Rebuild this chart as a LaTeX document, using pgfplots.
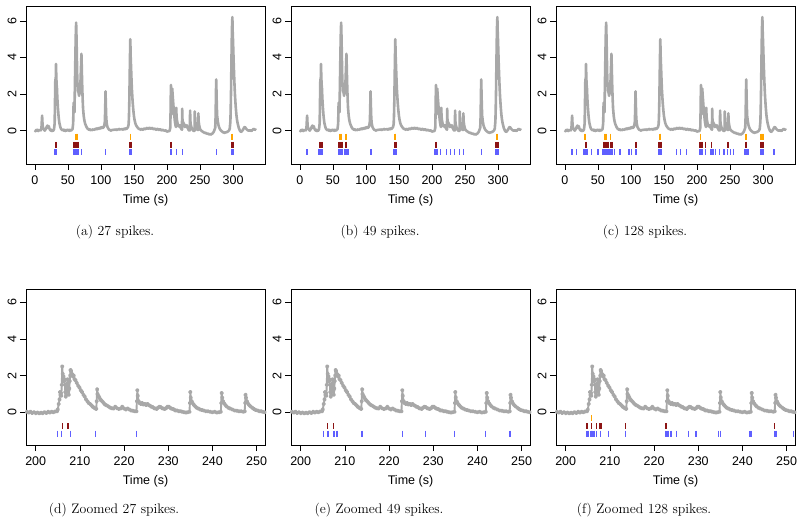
\documentclass[border=0pt]{standalone}
\usepackage{fontspec}
\usepackage{pgfplots}
\usepackage{pgfplotstable}
\pgfplotsset{compat=1.18}
\newfontfamily\helv{Liberation Sans}
\newcommand{\tickfont}{\helv\fontsize{12.5}{14}\selectfont}
\newcommand{\capfont}{\fontsize{13.8}{16}\selectfont}
\definecolor{tracegray}{RGB}{168,168,168}
\definecolor{spblue}{RGB}{95,95,255}
\definecolor{spred}{RGB}{140,20,20}
\definecolor{sporange}{RGB}{255,165,0}

\pgfplotstableread[row sep=\\]{
t y\\
0 0.02\\ 1 -0.03\\ 2 0.04\\ 3 0.0\\ 4 0.05\\ 5 -0.02\\ 6 0.03\\ 7 0.0\\ 8 0.04\\ 9 0.02\\
10 0.15\\ 10.5 0.5\\ 11 0.82\\ 11.5 0.45\\ 12 0.22\\ 13 0.1\\ 14 0.05\\ 15 0.0\\ 16 0.06\\ 17 0.12\\
18 0.22\\ 19 0.28\\ 20 0.15\\ 21 0.25\\ 22 0.12\\ 23 0.05\\ 24 0.0\\ 25 0.05\\ 26 -0.02\\ 27 0.02\\
28 0.0\\ 29 0.08\\ 30 0.4\\ 30.5 1.6\\ 31 2.8\\ 31.5 2.4\\ 32 3.65\\ 32.5 2.9\\ 33 2.5\\ 33.5 2.3\\
34 1.8\\ 35 1.2\\ 36 0.75\\ 37 0.45\\ 38 0.28\\ 39 0.15\\ 40 0.08\\ 41 0.05\\ 42 0.02\\ 43 0.06\\
44 0.0\\ 45 0.04\\ 46 -0.02\\ 47 0.03\\ 48 0.0\\ 49 0.05\\ 50 0.01\\ 51 0.04\\ 52 -0.01\\ 53 0.05\\
54 0.02\\ 55 0.0\\ 56 0.05\\ 57 0.08\\ 58 0.4\\ 58.5 1.3\\ 59 1.55\\ 59.5 1.3\\ 60 1.0\\ 60.5 2.2\\
61 3.3\\ 61.5 4.4\\ 62 5.3\\ 62.5 5.9\\ 63 5.2\\ 63.5 4.3\\ 64 3.2\\ 64.5 2.6\\ 65 2.4\\ 65.5 2.1\\
66 2.3\\ 66.5 2.0\\ 67 1.9\\ 67.5 2.2\\ 68 2.0\\ 68.5 2.4\\ 69 2.6\\ 69.5 3.1\\ 70 3.6\\ 70.5 4.2\\
71 3.5\\ 71.5 2.7\\ 72 2.1\\ 72.5 1.6\\ 73 1.2\\ 74 0.8\\ 75 0.55\\ 76 0.4\\ 77 0.3\\ 78 0.22\\
79 0.15\\ 80 0.1\\ 81 0.08\\ 82 0.05\\ 83 0.08\\ 84 0.03\\ 85 0.06\\ 86 0.02\\ 87 0.05\\ 88 0.08\\
89 0.04\\ 90 0.06\\ 91 0.1\\ 92 0.07\\ 93 0.12\\ 94 0.08\\ 95 0.1\\ 96 0.14\\ 97 0.1\\ 98 0.15\\
99 0.12\\ 100 0.18\\ 101 0.14\\ 102 0.2\\ 103 0.15\\ 104 0.18\\ 105 0.25\\ 106 0.5\\ 106.5 1.2\\ 107 2.15\\
107.5 1.4\\ 108 0.8\\ 108.5 0.5\\ 109 0.35\\ 110 0.2\\ 111 0.12\\ 112 0.08\\ 113 0.03\\ 114 0.05\\ 115 0.0\\
116 0.04\\ 117 0.02\\ 118 0.06\\ 119 0.03\\ 120 0.07\\ 121 0.04\\ 122 0.08\\ 123 0.05\\ 124 0.03\\ 125 0.07\\
126 0.05\\ 127 0.1\\ 128 0.08\\ 129 0.05\\ 130 0.09\\ 131 0.06\\ 132 0.1\\ 133 0.07\\ 134 0.05\\ 135 0.1\\
136 0.12\\ 137 0.08\\ 138 0.13\\ 139 0.1\\ 140 0.15\\ 141 0.2\\ 142 0.35\\ 142.5 0.8\\ 143 1.6\\ 143.5 2.8\\
144 4.0\\ 144.5 5.0\\ 145 4.1\\ 145.5 3.6\\ 146 3.1\\ 146.5 2.6\\ 147 2.2\\ 148 1.6\\ 149 1.15\\ 150 0.8\\
151 0.58\\ 152 0.42\\ 153 0.32\\ 154 0.25\\ 155 0.2\\ 156 0.15\\ 157 0.12\\ 158 0.08\\ 159 0.1\\ 160 0.05\\
161 0.08\\ 162 0.1\\ 163 0.06\\ 164 0.05\\ 165 0.1\\ 166 0.12\\ 167 0.08\\ 168 0.1\\ 169 0.14\\ 170 0.15\\
171 0.1\\ 172 0.12\\ 173 0.16\\ 174 0.14\\ 175 0.1\\ 176 0.12\\ 177 0.16\\ 178 0.13\\ 179 0.1\\ 180 0.08\\
181 0.11\\ 182 0.1\\ 183 0.06\\ 184 0.05\\ 185 0.09\\ 186 0.1\\ 187 0.05\\ 188 0.04\\ 189 0.07\\ 190 0.08\\
191 0.03\\ 192 0.02\\ 193 0.05\\ 194 0.04\\ 195 0.0\\ 196 0.02\\ 197 -0.01\\ 198 0.02\\ 199 -0.03\\ 200 -0.04\\
201 -0.05\\ 202 -0.02\\ 203 -0.03\\ 204 0.0\\ 205 0.15\\ 205.5 1.1\\ 206 2.5\\ 206.5 1.75\\ 207 0.9\\ 207.3 1.8\\
207.6 1.0\\ 208 2.3\\ 208.5 2.0\\ 209 1.75\\ 209.5 1.5\\ 210 1.25\\ 211 0.85\\ 212 0.5\\ 213 0.28\\ 213.6 0.2\\
214 1.25\\ 214.5 0.8\\ 215 0.6\\ 216 0.4\\ 217 0.25\\ 218 0.3\\ 219 0.2\\ 219.5 0.3\\ 220 0.2\\ 221 0.15\\
222 0.08\\ 222.7 0.05\\ 223 1.2\\ 223.5 0.55\\ 224 0.5\\ 225 0.42\\ 226 0.35\\ 227 0.2\\ 228 0.3\\ 229 0.2\\
230 0.3\\ 231 0.18\\ 232 0.1\\ 233 0.03\\ 234 0.0\\ 234.7 0.02\\ 235 1.1\\ 235.5 0.5\\ 236 0.35\\ 237 0.18\\
238 0.1\\ 239 0.05\\ 240 0.0\\ 241 -0.02\\ 241.8 0.0\\ 242.1 1.05\\ 242.6 0.5\\ 243 0.38\\ 244 0.2\\ 245 0.1\\
246 0.05\\ 247.2 0.04\\ 247.5 0.95\\ 248 0.5\\ 249 0.25\\ 250 0.1\\ 251 0.04\\ 252 0.0\\ 253 -0.03\\ 254 -0.05\\
255 -0.08\\ 256 -0.1\\ 257 -0.12\\ 258 -0.1\\ 259 -0.14\\ 260 -0.15\\ 261 -0.17\\ 262 -0.15\\ 263 -0.19\\ 264 -0.2\\
265 -0.18\\ 266 -0.21\\ 267 -0.2\\ 268 -0.17\\ 269 -0.15\\ 270 -0.1\\ 271 -0.05\\ 272 0.05\\ 273 0.15\\ 273.5 0.6\\
274 1.6\\ 274.5 2.8\\ 275 2.1\\ 275.5 1.3\\ 276 0.8\\ 277 0.5\\ 278 0.3\\ 279 0.18\\ 280 0.1\\ 281 0.04\\
282 0.0\\ 283 -0.04\\ 284 -0.06\\ 285 -0.09\\ 286 -0.1\\ 287 -0.12\\ 288 -0.1\\ 289 -0.08\\ 290 -0.1\\ 291 -0.06\\
292 -0.05\\ 293 -0.02\\ 294 0.02\\ 295 0.1\\ 296 0.5\\ 296.5 1.2\\ 297 2.2\\ 297.5 3.5\\ 298 4.8\\ 298.5 5.7\\
299 6.2\\ 299.5 5.4\\ 300 4.9\\ 300.5 4.3\\ 301 3.7\\ 301.5 3.2\\ 302 2.7\\ 303 1.9\\ 304 1.35\\ 305 0.9\\
306 0.6\\ 307 0.4\\ 308 0.25\\ 309 0.12\\ 310 0.04\\ 311 -0.03\\ 312 -0.06\\ 313 -0.05\\ 314 0.0\\ 315 0.05\\
316 0.12\\ 317 0.18\\ 318 0.2\\ 319 0.15\\ 320 0.1\\ 321 0.06\\ 322 0.03\\ 323 0.0\\ 324 0.02\\ 325 -0.01\\
326 0.03\\ 327 0.0\\ 328 -0.02\\ 329 0.03\\ 330 0.06\\ 331 0.1\\ 332 0.08\\ 333 0.05\\ 334 0.06\\ 335 0.03\\
}\fulltrace

\pgfplotstableread[row sep=\\]{
t y\\
198.0 0.02\\ 198.4 -0.02\\ 198.8 0.03\\ 199.2 -0.04\\ 199.6 0.0\\ 200.0 -0.05\\ 200.4 -0.02\\ 200.8 -0.06\\
201.2 -0.03\\ 201.6 -0.05\\ 202.0 0.0\\ 202.4 -0.04\\ 202.8 0.02\\ 203.2 -0.02\\ 203.6 0.03\\ 204.0 0.0\\
204.4 0.04\\ 204.8 0.05\\ 205.0 0.15\\ 205.2 0.45\\ 205.4 0.7\\ 205.5 1.1\\ 205.6 0.95\\ 205.7 1.05\\
205.8 0.9\\ 205.9 1.5\\ 206.0 2.5\\ 206.1 2.1\\ 206.2 1.85\\ 206.3 1.95\\ 206.4 1.7\\ 206.5 1.8\\
206.6 1.5\\ 206.7 1.1\\ 206.8 0.85\\ 206.9 0.95\\ 207.0 1.2\\ 207.1 1.5\\ 207.2 1.8\\ 207.3 1.6\\
207.4 1.2\\ 207.5 0.95\\ 207.6 1.3\\ 207.7 1.7\\ 207.8 2.0\\ 207.9 2.3\\ 208.0 2.25\\ 208.2 2.1\\
208.4 1.95\\ 208.6 2.0\\ 208.8 1.8\\ 209.0 1.75\\ 209.3 1.6\\ 209.6 1.45\\ 209.9 1.35\\ 210.2 1.2\\
210.5 1.1\\ 210.8 0.95\\ 211.1 0.85\\ 211.4 0.7\\ 211.7 0.6\\ 212.0 0.5\\ 212.3 0.45\\ 212.6 0.38\\
212.9 0.3\\ 213.2 0.25\\ 213.5 0.2\\ 213.7 0.18\\ 213.8 0.6\\ 213.9 1.25\\ 214.0 1.0\\ 214.2 0.9\\
214.4 0.8\\ 214.6 0.72\\ 214.8 0.65\\ 215.1 0.58\\ 215.4 0.5\\ 215.7 0.42\\ 216.0 0.38\\ 216.4 0.32\\
216.8 0.26\\ 217.2 0.22\\ 217.6 0.2\\ 218.0 0.3\\ 218.4 0.22\\ 218.8 0.18\\ 219.2 0.2\\ 219.6 0.3\\
220.0 0.2\\ 220.4 0.15\\ 220.8 0.2\\ 221.2 0.15\\ 221.6 0.1\\ 222.0 0.08\\ 222.4 0.05\\ 222.8 0.05\\
222.9 0.6\\ 223.0 1.2\\ 223.1 0.9\\ 223.3 0.6\\ 223.5 0.5\\ 223.8 0.45\\ 224.1 0.5\\ 224.4 0.42\\
224.7 0.45\\ 225.0 0.4\\ 225.3 0.45\\ 225.6 0.38\\ 225.9 0.35\\ 226.2 0.3\\ 226.5 0.28\\ 226.8 0.22\\
227.1 0.2\\ 227.4 0.18\\ 227.7 0.25\\ 228.0 0.3\\ 228.3 0.28\\ 228.6 0.22\\ 228.9 0.2\\ 229.2 0.18\\
229.5 0.22\\ 229.8 0.3\\ 230.1 0.3\\ 230.4 0.25\\ 230.7 0.2\\ 231.0 0.18\\ 231.3 0.15\\ 231.6 0.1\\
232.0 0.1\\ 232.4 0.06\\ 232.8 0.05\\ 233.2 0.02\\ 233.6 0.0\\ 234.0 -0.02\\ 234.4 0.0\\ 234.8 0.02\\
234.9 0.5\\ 235.0 1.1\\ 235.1 0.8\\ 235.3 0.6\\ 235.5 0.5\\ 235.8 0.4\\ 236.1 0.32\\ 236.4 0.25\\
236.8 0.2\\ 237.2 0.15\\ 237.6 0.12\\ 238.0 0.1\\ 238.5 0.06\\ 239.0 0.05\\ 239.5 0.02\\ 240.0 0.0\\
240.5 0.02\\ 241.0 -0.02\\ 241.5 0.0\\ 241.9 0.02\\ 242.0 0.5\\ 242.1 1.05\\ 242.2 0.8\\ 242.4 0.6\\
242.6 0.5\\ 242.9 0.4\\ 243.2 0.32\\ 243.6 0.25\\ 244.0 0.2\\ 244.5 0.15\\ 245.0 0.1\\ 245.5 0.08\\
246.0 0.05\\ 246.5 0.05\\ 247.0 0.03\\ 247.3 0.05\\ 247.4 0.5\\ 247.5 0.95\\ 247.6 0.8\\ 247.8 0.6\\
248.0 0.5\\ 248.3 0.4\\ 248.6 0.32\\ 249.0 0.25\\ 249.4 0.18\\ 249.8 0.12\\ 250.2 0.1\\ 250.6 0.06\\
251.0 0.05\\ 251.4 0.02\\ 251.8 0.0\\ 252.2 0.0\\
}\zoomtrace

\pgfplotsset{
  panel/.style={
    scale only axis, width=239pt,
    axis line style={line width=0.8pt},
    every tick/.style={black, line width=0.6pt},
    tick align=outside, tickpos=left,
    major tick length=6pt,
    ytick={0,2,4,6},
    yticklabel style={rotate=90, anchor=south, font=\tickfont},
    xticklabel style={font=\tickfont, yshift=-2pt},
    xlabel={Time (s)}, xlabel style={font=\tickfont, yshift=-3pt},
    /pgf/number format/assume math mode=true,
  },
  toprow/.style={panel, height=158pt, xmin=-13.4, xmax=348.4, ymin=-1.82, ymax=6.81,
    xtick={0,50,100,150,200,250,300}},
  botrow/.style={panel, height=156pt, xmin=197.8, xmax=251.9, ymin=-1.79, ymax=6.73,
    xtick={200,210,220,230,240,250}},
  trace/.style={color=tracegray, line width=2.6pt, line join=round, no marks},
  ztrace/.style={color=tracegray, line width=1.9pt, line join=round, mark=*, mark size=1.2pt},
  spk/.style={only marks, mark=|, mark size=3pt, mark options={line width=1.4pt}},
  zspk/.style={only marks, mark=|, mark size=3pt, mark options={line width=1.3pt}},
  spB/.style={spk, color=spblue},
  spR/.style={spk, color=spred},
  spO/.style={spk, color=sporange},
  zB/.style={zspk, color=spblue},
  zR/.style={zspk, color=spred},
  zO/.style={zspk, color=sporange},
}

\begin{document}
\begin{tikzpicture}
\path[use as bounding box] (0pt,0pt) rectangle (800pt,-525pt);

% (a)
\begin{axis}[toprow, at={(26pt,-6pt)}, anchor=north west]
\addplot[trace] table[x=t,y=y] {\fulltrace};
\addplot[spB] coordinates {(29.5,-1.17) (31,-1.17) (32.5,-1.17) (58.5,-1.17) (60,-1.17) (61.5,-1.17) (63,-1.17) (64.5,-1.17) (65.5,-1.17) (70.6,-1.17) (107.4,-1.17) (143,-1.17) (144.5,-1.17) (146,-1.17) (205.5,-1.17) (207,-1.17) (214.3,-1.17) (223.4,-1.17) (274.8,-1.17) (297.5,-1.17) (299,-1.17) (300.5,-1.17)};
\addplot[spR] coordinates {(31,-0.77) (32.5,-0.77) (59.5,-0.77) (61,-0.77) (62.5,-0.77) (64,-0.77) (65.5,-0.77) (144,-0.77) (145.5,-0.77) (206,-0.77) (298,-0.77) (299.5,-0.77) (301,-0.77)};
\addplot[spO] coordinates {(62.5,-0.33) (64,-0.33) (144.7,-0.33) (298.5,-0.33)};
\end{axis}

% (b)
\begin{axis}[toprow, at={(291pt,-6pt)}, anchor=north west]
\addplot[trace] table[x=t,y=y] {\fulltrace};
\addplot[spB] coordinates {(11,-1.17) (29,-1.17) (30.5,-1.17) (32,-1.17) (33.5,-1.17) (58.5,-1.17) (60,-1.17) (61.5,-1.17) (63,-1.17) (64.5,-1.17) (68.5,-1.17) (70,-1.17) (71.5,-1.17) (73,-1.17) (107.4,-1.17) (142,-1.17) (143.5,-1.17) (145,-1.17) (146.5,-1.17) (204.5,-1.17) (206,-1.17) (207.5,-1.17) (213.3,-1.17) (222,-1.17) (228.4,-1.17) (234.5,-1.17) (241.5,-1.17) (247.6,-1.17) (274.8,-1.17) (297,-1.17) (298.5,-1.17) (300,-1.17) (301,-1.17)};
\addplot[spR] coordinates {(29.5,-0.77) (31,-0.77) (32.5,-0.77) (34,-0.77) (59.5,-0.77) (61,-0.77) (62.5,-0.77) (64,-0.77) (65,-0.77) (70,-0.77) (71,-0.77) (144,-0.77) (145.5,-0.77) (206,-0.77) (296.5,-0.77) (298,-0.77) (299.5,-0.77) (301,-0.77)};
\addplot[spO] coordinates {(60,-0.33) (61.5,-0.33) (63,-0.33) (70,-0.33) (144,-0.33) (145,-0.33) (298,-0.33) (299.5,-0.33)};
\end{axis}

% (c)
\begin{axis}[toprow, at={(556pt,-6pt)}, anchor=north west]
\addplot[trace] table[x=t,y=y] {\fulltrace};
\addplot[spB] coordinates {(11,-1.17) (17.6,-1.17) (29,-1.17) (30.5,-1.17) (32,-1.17) (33.5,-1.17) (40.3,-1.17) (50.4,-1.17) (57,-1.17) (58.5,-1.17) (60,-1.17) (61.5,-1.17) (63,-1.17) (64.5,-1.17) (66,-1.17) (68.5,-1.17) (70,-1.17) (71.5,-1.17) (75.6,-1.17) (83.2,-1.17) (97.3,-1.17) (100.9,-1.17) (106.5,-1.17) (108,-1.17) (141.5,-1.17) (143,-1.17) (144.5,-1.17) (146,-1.17) (169,-1.17) (175,-1.17) (184,-1.17) (203.5,-1.17) (205,-1.17) (206.5,-1.17) (208,-1.17) (213.3,-1.17) (221,-1.17) (222.5,-1.17) (224,-1.17) (225,-1.17) (228,-1.17) (234.5,-1.17) (241,-1.17) (246,-1.17) (251,-1.17) (255.7,-1.17) (271.5,-1.17) (273,-1.17) (274.5,-1.17) (276,-1.17) (277.5,-1.17) (297,-1.17) (298.5,-1.17) (300,-1.17) (301,-1.17) (316.7,-1.17)};
\addplot[spR] coordinates {(31,-0.77) (32.5,-0.77) (58.5,-0.77) (60,-0.77) (61.5,-0.77) (63,-0.77) (64.5,-0.77) (65.5,-0.77) (69,-0.77) (70.5,-0.77) (71.5,-0.77) (107.4,-0.77) (142.5,-0.77) (144,-0.77) (145.5,-0.77) (204.5,-0.77) (206,-0.77) (207.5,-0.77) (213.3,-0.77) (222,-0.77) (247,-0.77) (274,-0.77) (275,-0.77) (296.5,-0.77) (298,-0.77) (299.5,-0.77) (301,-0.77)};
\addplot[spO] coordinates {(30,-0.33) (31.5,-0.33) (60,-0.33) (61.5,-0.33) (63,-0.33) (69,-0.33) (144,-0.33) (145,-0.33) (205.5,-0.33) (274,-0.33) (297,-0.33) (298.5,-0.33) (300,-0.33)};
\end{axis}

% (d)
\begin{axis}[botrow, at={(26pt,-289pt)}, anchor=north west]
\addplot[ztrace] table[x=t,y=y] {\zoomtrace};
\addplot[zB] coordinates {(205.0,-1.17) (205.9,-1.17) (207.9,-1.17) (213.6,-1.17) (222.8,-1.17)};
\addplot[zR] coordinates {(206.0,-0.77) (207.3,-0.77)};
\end{axis}

% (e)
\begin{axis}[botrow, at={(291pt,-289pt)}, anchor=north west]
\addplot[ztrace] table[x=t,y=y] {\zoomtrace};
\addplot[zB] coordinates {(205.2,-1.17) (206.2,-1.17) (207.5,-1.17) (208.2,-1.17) (213.9,-1.17) (223.0,-1.17) (228.2,-1.17) (234.8,-1.17) (241.9,-1.17) (247.4,-1.17)};
\addplot[zR] coordinates {(206.1,-0.77) (207.4,-0.77)};
\end{axis}

% (f)
\begin{axis}[botrow, at={(556pt,-289pt)}, anchor=north west]
\addplot[ztrace] table[x=t,y=y] {\zoomtrace};
\addplot[zB] coordinates {(204.8,-1.17) (205.1,-1.17) (205.7,-1.17) (205.9,-1.17) (206.1,-1.17) (206.4,-1.17) (207.0,-1.17) (207.8,-1.17) (209.7,-1.17) (213.6,-1.17) (222.6,-1.17) (222.9,-1.17) (223.2,-1.17) (223.8,-1.17) (225.1,-1.17) (227.8,-1.17) (229.5,-1.17) (234.6,-1.17) (235.0,-1.17) (241.7,-1.17) (242.1,-1.17) (247.2,-1.17) (247.6,-1.17) (251.5,-1.17)};
\addplot[zR] coordinates {(204.8,-0.77) (205.9,-0.77) (207.0,-0.77) (207.7,-0.77) (208.0,-0.77) (213.6,-0.77) (222.7,-0.77) (247.2,-0.77)};
\addplot[zO] coordinates {(205.9,-0.33)};
\end{axis}

\node[font=\capfont] at (115pt,-232pt) {(a) 27 spikes.};
\node[font=\capfont] at (380pt,-232pt) {(b) 49 spikes.};
\node[font=\capfont] at (645pt,-232pt) {(c) 128 spikes.};
\node[font=\capfont] at (114pt,-510pt) {(d) Zoomed 27 spikes.};
\node[font=\capfont] at (379pt,-510pt) {(e) Zoomed 49 spikes.};
\node[font=\capfont] at (644pt,-510pt) {(f) Zoomed 128 spikes.};
\end{tikzpicture}
\end{document}
